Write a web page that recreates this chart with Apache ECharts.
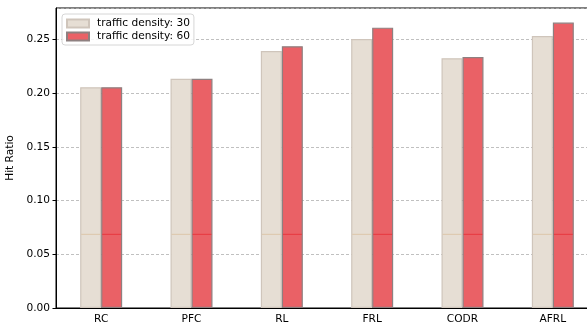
<!DOCTYPE html>
<html>
<head>
<meta charset="utf-8">
<script src="https://cdn.jsdelivr.net/npm/echarts@6/dist/echarts.min.js"></script>
<style>
  html, body { margin: 0; padding: 0; background: #fff; overflow: hidden; }
  /* the plot frame runs past the right edge of the page and is clipped there */
  #chart { width: 598px; height: 324px; }
</style>
</head>
<body>
<div id="chart"></div>
<script>
// Hit ratio per caching strategy at two traffic densities
const categories = ['RC', 'PFC', 'RL', 'FRL', 'CODR', 'AFRL'];
const density30 = [0.2055, 0.2135, 0.2393, 0.2505, 0.2325, 0.2533];
const density60 = [0.2055, 0.2135, 0.2437, 0.2610, 0.2337, 0.2657];
// reference level drawn as a thin line inside each bar
const baseLevel = [0.0686, 0.0686, 0.0686, 0.0686, 0.0686, 0.0686];
const yTicks = [0, 0.05, 0.10, 0.15, 0.20, 0.25];

const BAR_W = 21;
const FONT = 'DejaVu Sans';
const FS = 10.6;

const chart = echarts.init(document.getElementById('chart'), null, { renderer: 'canvas' });

function levelLine(side, color) {
  return function (params, api) {
    const idx = api.value(0);
    const p = api.coord([idx, api.value(1)]);
    const x0 = side < 0 ? p[0] - BAR_W : p[0];
    return {
      type: 'line',
      shape: { x1: x0 + 1, y1: p[1], x2: x0 + BAR_W - 1, y2: p[1] },
      style: { stroke: color, lineWidth: 1 }
    };
  };
}

chart.setOption({
  animation: false,
  textStyle: { fontFamily: FONT },
  grid: {
    left: 56, right: 0, top: 8, bottom: 16,
    outerBoundsMode: 'none',
    containLabel: false,
    show: true, borderColor: '#000', borderWidth: 1, backgroundColor: 'transparent'
  },
  legend: {
    orient: 'vertical',
    left: 62, top: 14,
    icon: 'rect',
    itemWidth: 22, itemHeight: 8, itemGap: 2,
    padding: [4, 4, 3, 4],
    backgroundColor: 'rgba(255,255,255,0.85)',
    borderColor: '#d6d6d6', borderWidth: 1, borderRadius: 3,
    textStyle: { fontFamily: FONT, fontSize: FS, color: '#000', padding: [0, 0, 0, 3] },
    data: ['traffic density: 30', 'traffic density: 60']
  },
  xAxis: {
    type: 'category',
    data: categories,
    axisLine: { lineStyle: { color: '#000', width: 1 } },
    axisTick: { alignWithLabel: true, length: 3.5, lineStyle: { color: '#000' } },
    axisLabel: { fontFamily: FONT, fontSize: FS, color: '#000', margin: 6 }
  },
  yAxis: {
    type: 'value',
    min: 0, max: 0.2793, interval: 0.05,
    name: 'Hit Ratio',
    nameLocation: 'middle', nameGap: 36, nameRotate: 90,
    nameTextStyle: { fontFamily: FONT, fontSize: FS, color: '#000' },
    axisLine: { show: true, lineStyle: { color: '#000', width: 1 } },
    axisTick: { show: true, length: 3.5, lineStyle: { color: '#000' } },
    axisLabel: {
      fontFamily: FONT, fontSize: FS, color: '#000', margin: 6,
      showMaxLabel: false,
      formatter: v => (yTicks.some(t => Math.abs(t - v) < 1e-9) ? v.toFixed(2) : '')
    },
    splitLine: { show: true, lineStyle: { color: '#b0b0b0', type: [3, 2], width: 0.8 } }
  },
  series: [
    {
      name: 'traffic density: 30',
      type: 'bar',
      data: density30,
      barWidth: BAR_W,
      barGap: '0%',
      itemStyle: { color: '#e6ded4', borderColor: '#cfc5bb', borderWidth: 1.2 }
    },
    {
      name: 'traffic density: 60',
      type: 'bar',
      data: density60,
      barWidth: BAR_W,
      barGap: '0%',
      itemStyle: { color: '#ea6166', borderColor: '#8e8080', borderWidth: 1.2 }
    },
    {
      type: 'custom',
      data: baseLevel.map((v, i) => [i, v]),
      renderItem: levelLine(-1, '#dcc6aa'),
      silent: true, z: 5
    },
    {
      type: 'custom',
      data: baseLevel.map((v, i) => [i, v]),
      renderItem: levelLine(1, '#e8363e'),
      silent: true, z: 5
    }
  ]
});
</script>
</body>
</html>
